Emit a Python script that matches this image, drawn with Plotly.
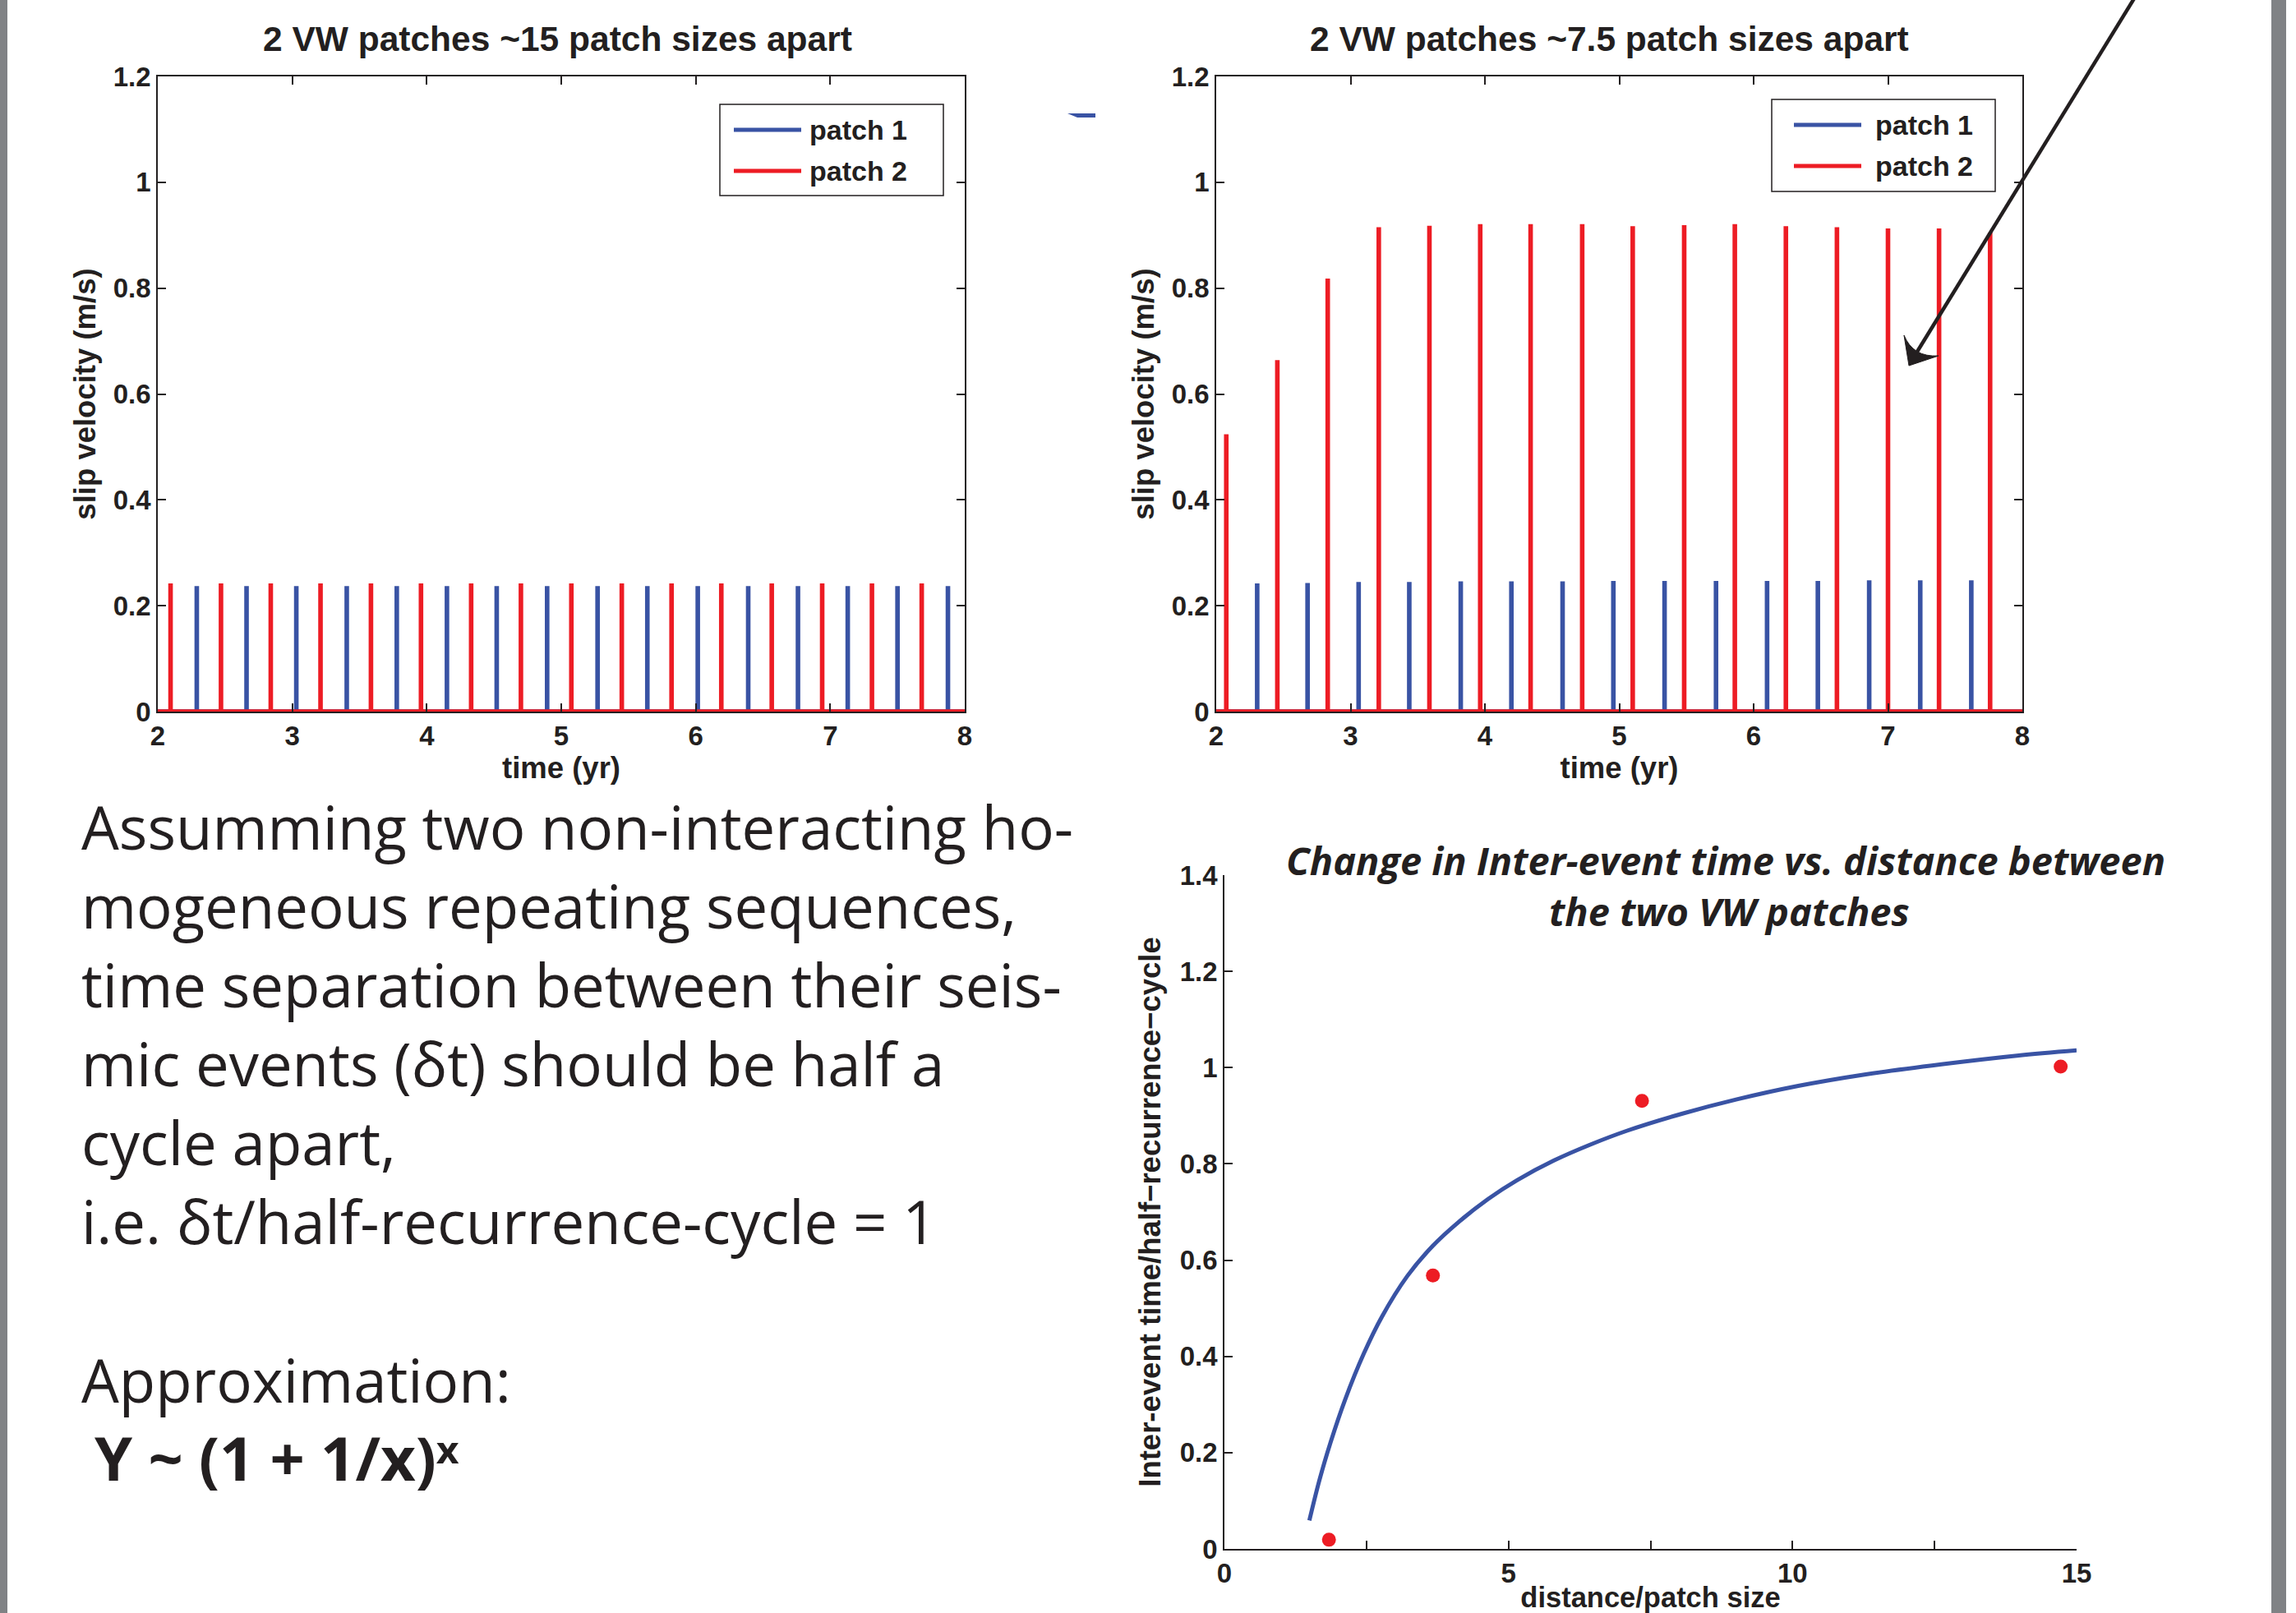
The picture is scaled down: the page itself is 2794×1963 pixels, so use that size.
import plotly.graph_objects as go

W, H = 2794, 1963

# ---------------- data ----------------
# Panel A: 2 VW patches ~15 patch sizes apart
a_patch1_times = [2.29, 2.66, 3.03, 3.405, 3.777, 4.15, 4.52, 4.895, 5.27, 5.64, 6.015, 6.39, 6.76, 7.13, 7.50, 7.875]
a_patch1_peaks = [0.237, 0.237, 0.237, 0.237, 0.237, 0.237, 0.237, 0.237, 0.237, 0.237, 0.237, 0.237, 0.237, 0.237, 0.237, 0.237]
a_patch2_times = [2.095, 2.47, 2.84, 3.21, 3.585, 3.957, 4.33, 4.70, 5.075, 5.45, 5.82, 6.19, 6.565, 6.94, 7.31, 7.68]
a_patch2_peaks = [0.242, 0.242, 0.242, 0.242, 0.242, 0.242, 0.242, 0.242, 0.242, 0.242, 0.242, 0.242, 0.242, 0.242, 0.242, 0.242]

# Panel B: 2 VW patches ~7.5 patch sizes apart
b_patch1_times = [2.305, 2.68, 3.06, 3.437, 3.82, 4.197, 4.578, 4.956, 5.337, 5.72, 6.10, 6.478, 6.86, 7.24, 7.62]
b_patch1_peaks = [0.242, 0.243, 0.245, 0.245, 0.246, 0.246, 0.246, 0.247, 0.247, 0.247, 0.247, 0.247, 0.248, 0.248, 0.248]
b_patch2_times = [2.075, 2.455, 2.83, 3.21, 3.587, 3.965, 4.34, 4.724, 5.10, 5.483, 5.86, 6.24, 6.62, 7.0, 7.38, 7.76]
b_patch2_peaks = [0.524, 0.664, 0.818, 0.915, 0.918, 0.921, 0.921, 0.921, 0.917, 0.919, 0.921, 0.917, 0.915, 0.913, 0.913, 0.905]

# Panel C: inter-event time vs distance
c_dist = [1.84, 3.67, 7.35, 14.72]
c_ratio = [0.019, 0.568, 0.931, 1.002]
c_fit_x = [1.495, 1.675, 1.87, 2.13, 2.45, 2.77, 3.22, 3.67, 4.12, 4.64, 5.15, 5.80, 6.44, 7.09,
           8.05, 9.02, 10.10, 11.29, 12.62, 13.95, 15.0]
c_fit_y = [0.059, 0.144, 0.222, 0.312, 0.405, 0.482, 0.567, 0.630, 0.679, 0.727, 0.766, 0.807, 0.840, 0.869,
           0.904, 0.934, 0.962, 0.986, 1.007, 1.025, 1.036]

time_ticks = [2, 3, 4, 5, 6, 7, 8]
vel_ticks = [0, 0.2, 0.4, 0.6, 0.8, 1.0, 1.2]
vel_labels = ["0", "0.2", "0.4", "0.6", "0.8", "1", "1.2"]
dist_ticks = [0, 5, 10, 15]
dist_minor_ticks = [2.5, 7.5, 12.5]
ratio_ticks = [0, 0.2, 0.4, 0.6, 0.8, 1.0, 1.2, 1.4]
ratio_labels = ["0", "0.2", "0.4", "0.6", "0.8", "1", "1.2", "1.4"]

text_lines = ["Assumming two non-interacting ho-",
              "mogeneous repeating sequences,",
              "time separation between their seis-",
              "mic events (δt) should be half a",
              "cycle apart,",
              "i.e. δt/half-recurrence-cycle = 1"]

BLUE = "#3953a4"
RED = "#ed1c24"
INK = "#231f20"
MFONT = "Liberation Sans, Arial, Helvetica, sans-serif"
TFONT = "Open Sans, Noto Sans, DejaVu Sans, sans-serif"


def px(x):
    return x / W


def py(y):
    return 1 - y / H


def spikes(times, peaks, x0, x1):
    xs, ys = [x0], [0]
    for t, p in zip(times, peaks):
        xs += [t, t, t]
        ys += [0, p, 0]
    xs.append(x1)
    ys.append(0)
    return xs, ys


fig = go.Figure()

for times, peaks, col, nm, xa, ya in [
    (a_patch1_times, a_patch1_peaks, BLUE, "patch 1", "x", "y"),
    (a_patch2_times, a_patch2_peaks, RED, "patch 2", "x", "y"),
    (b_patch1_times, b_patch1_peaks, BLUE, "patch 1", "x2", "y2"),
    (b_patch2_times, b_patch2_peaks, RED, "patch 2", "x2", "y2"),
]:
    xs, ys = spikes(times, peaks, 2, 8)
    fig.add_trace(go.Scatter(x=xs, y=ys, mode="lines", name=nm, xaxis=xa, yaxis=ya,
                             line=dict(color=col, width=5.6), showlegend=False))

fig.add_trace(go.Scatter(x=c_fit_x, y=c_fit_y, mode="lines", xaxis="x3", yaxis="y3",
                         line=dict(color=BLUE, width=5, shape="spline", smoothing=1.0), name="approximation",
                         showlegend=False))
fig.add_trace(go.Scatter(x=c_dist, y=c_ratio, mode="markers", xaxis="x3", yaxis="y3",
                         marker=dict(color=RED, size=17), name="simulations", showlegend=False))

tickfont = dict(family=MFONT, size=33, color=INK, weight="bold")
titlefont = dict(family=MFONT, size=36.5, color=INK, weight="bold")
common = dict(showline=True, linecolor=INK, linewidth=1.5, ticks="inside", ticklen=10,
              tickwidth=1.5, tickcolor=INK, showgrid=False, zeroline=False,
              tickfont=tickfont, automargin=False)

top_y = (py(866), py(93))
fig.update_layout(
    width=W, height=H, margin=dict(l=0, r=0, t=0, b=0),
    paper_bgcolor="white", plot_bgcolor="white", showlegend=False,
    xaxis=dict(domain=[px(192), px(1174)], anchor="y", range=[2, 8], tickvals=time_ticks,
               mirror="ticks", title=dict(text="time (yr)", font=titlefont, standoff=8), **common),
    yaxis=dict(domain=list(top_y), anchor="x", range=[0, 1.2], tickvals=vel_ticks, ticktext=vel_labels,
               mirror="ticks", title=dict(text="slip velocity (m/s)", font=titlefont, standoff=10), **common),
    xaxis2=dict(domain=[px(1480), px(2461)], anchor="y2", range=[2, 8], tickvals=time_ticks,
                mirror="ticks", title=dict(text="time (yr)", font=titlefont, standoff=8), **common),
    yaxis2=dict(domain=list(top_y), anchor="x2", range=[0, 1.2], tickvals=vel_ticks, ticktext=vel_labels,
                mirror="ticks", title=dict(text="slip velocity (m/s)", font=titlefont, standoff=10), **common),
    xaxis3=dict(domain=[px(1490), px(2527)], anchor="y3", range=[0, 15], tickvals=dist_ticks,
                minor=dict(tickvals=dist_minor_ticks, ticks="inside", ticklen=10, tickwidth=1.5,
                           tickcolor=INK, showgrid=False),
                title=dict(text="distance/patch size", standoff=20,
                           font=dict(family=MFONT, size=34.5, color=INK, weight="bold")),
                **common),
    yaxis3=dict(domain=[py(1885), py(1065)], anchor="x3", range=[0, 1.4], tickvals=ratio_ticks,
                ticktext=ratio_labels,
                title=dict(text="Inter-event time/half\u2212recurrence\u2212cycle", font=titlefont, standoff=12),
                **common),
)

shapes = []
annots = []

# gray page edges
shapes.append(dict(type="rect", xref="paper", yref="paper", x0=0, x1=px(9), y0=0, y1=1,
                   fillcolor="#808285", line=dict(width=0), layer="above"))
shapes.append(dict(type="rect", xref="paper", yref="paper", x0=px(2764), x1=px(2782), y0=0, y1=1,
                   fillcolor="#808285", line=dict(width=0), layer="above"))
# small blue mark
shapes.append(dict(type="path", xref="paper", yref="paper",
                   path=f"M{px(1299)},{py(138)} L{px(1333)},{py(138)} L{px(1333)},{py(143)} L{px(1311)},{py(143)} Z",
                   fillcolor=BLUE, line=dict(width=0)))

# arrow pointing into panel B (shaft + curved arrowhead)
shapes.append(dict(type="line", xref="paper", yref="paper", x0=px(2599), y0=py(-5), x1=px(2333), y1=py(428),
                   line=dict(color=INK, width=4.5)))
shapes.append(dict(type="path", xref="paper", yref="paper",
                   path=(f"M{px(2323)},{py(445)} L{px(2317)},{py(408)} "
                         f"Q{px(2328)},{py(435)} {px(2359)},{py(433)} Z"),
                   fillcolor=INK, line=dict(color=INK, width=1)))

# legends (box, line samples, labels)
for bx0, bx1, by0, by1, lx0, lx1, ly1, ly2, tx in [
    (876, 1148, 127, 238, 893, 975, 158, 208, 983),
    (2156, 2428, 121, 233, 2183, 2265, 152, 202, 2280),
]:
    shapes.append(dict(type="rect", xref="paper", yref="paper", x0=px(bx0), x1=px(bx1),
                       y0=py(by1), y1=py(by0), fillcolor="white", line=dict(color=INK, width=1.5)))
    for yy, col, lab in [(ly1, BLUE, "patch 1"), (ly2, RED, "patch 2")]:
        shapes.append(dict(type="line", xref="paper", yref="paper", x0=px(lx0), x1=px(lx1),
                           y0=py(yy), y1=py(yy), line=dict(color=col, width=5)))
        annots.append(dict(xref="paper", yref="paper", x=px(tx), y=py(yy), xanchor="left",
                           yanchor="middle", text=lab, showarrow=False,
                           font=dict(family=MFONT, size=34, color=INK, weight="bold")))

# panel titles
titlef = dict(family=MFONT, size=42.5, color=INK, weight="bold")
annots.append(dict(xref="paper", yref="paper", x=px(678), y=py(47), xanchor="center", yanchor="middle",
                   text="2 VW patches ~15 patch sizes apart", showarrow=False, font=titlef))
annots.append(dict(xref="paper", yref="paper", x=px(1958), y=py(47), xanchor="center", yanchor="middle",
                   text="2 VW patches ~7.5 patch sizes apart", showarrow=False, font=titlef))
ctf = dict(family=TFONT, size=47, color=INK, weight="bold", style="italic")
annots.append(dict(xref="paper", yref="paper", x=px(2100), y=py(1047), xanchor="center", yanchor="middle",
                   text="Change in Inter-event time vs. distance between", showarrow=False, font=ctf))
annots.append(dict(xref="paper", yref="paper", x=px(2104), y=py(1109), xanchor="center", yanchor="middle",
                   text="the two VW patches", showarrow=False, font=ctf))

# explanatory text
bodyf = dict(family=TFONT, size=72.5, color=INK)
baselines = [1034, 1130, 1226, 1322, 1418, 1514]
for t, b in zip(text_lines, baselines):
    annots.append(dict(xref="paper", yref="paper", x=px(97), y=py(b - 28), xanchor="left", yanchor="middle",
                       text=t, showarrow=False, font=bodyf))
annots.append(dict(xref="paper", yref="paper", x=px(97), y=py(1707 - 28), xanchor="left", yanchor="middle",
                   text="Approximation:", showarrow=False, font=bodyf))
annots.append(dict(xref="paper", yref="paper", x=px(113), y=py(1802 - 29), xanchor="left", yanchor="middle",
                   text="Y ~ (1 + 1/x)\u02e3", showarrow=False,
                   font=dict(family=TFONT, size=74, color=INK, weight="bold")))

fig.update_layout(shapes=shapes, annotations=annots)
fig.write_html("out.html")
